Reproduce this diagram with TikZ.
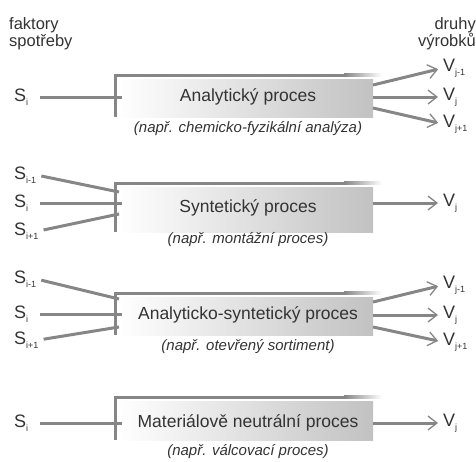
\documentclass[tikz,border=0pt]{standalone}
\usepackage{fontspec}
\setmainfont{Liberation Sans}
\usetikzlibrary{arrows.meta}
\newcommand{\lo}[1]{\raisebox{-4pt}{\fontsize{9}{9}\selectfont #1}}
\tikzset{
  flow/.style={draw=gray!95, line width=3pt},
  outflow/.style={flow, -{Straight Barb[length=9pt,width=14pt,line width=1.3pt]}, shorten >=5pt},
  lbl/.style={font=\fontsize{18}{20}\selectfont, text=black!80, inner sep=0pt, anchor=west},
  proctext/.style={font=\fontsize{17.5}{20}\selectfont, text=black!80, inner sep=0pt},
  note/.style={font=\fontsize{15}{18}\selectfont\itshape, text=black!80, inner sep=0pt},
  head/.style={font=\fontsize{16.5}{17}\selectfont, text=black!80, inner sep=0pt}
}
\begin{document}
\begin{tikzpicture}[x=1pt,y=-1pt]
\useasboundingbox (0,0) rectangle (476,461);
\node[head,anchor=north west,align=left] (fs) at (9,17) {faktory\\spotřeby};
\node[head,anchor=north east,align=right] (dv) at (476,17) {druhy\\výrobků};
% process boxes: gradient fill, bracket on the left and top
\foreach \yt/\yb in {75/117,183/232,293/335,397/440} {
  \shade[left color=white, right color=gray!48] (118,\yt+4) rectangle (373,\yb);
  \fill[gray!95] (113.5,\yt-1.5) rectangle (345,\yt+1.5);
  \shade[left color=gray!95, right color=white] (344,\yt-1.5) rectangle (382,\yt+1.5);
  \draw[gray!95, line width=3pt] (115,\yt) -- (115,\yb);
}
\node[proctext] (ana) at (248,97) {Analytický proces};
\node[note] (anan) at (248,129) {(např. chemicko-fyzikální analýza)};
\node[proctext] (syn) at (248,208) {Syntetický proces};
\node[note] (synn) at (248,240) {(např. montážní proces)};
\node[proctext] (ans) at (248,315) {Analyticko-syntetický proces};
\node[note] (ansn) at (248,347) {(např. otevřený sortiment)};
\node[proctext] (mat) at (248,423) {Materiálově neutrální proces};
\node[note] (matn) at (248,452) {(např. válcovací proces)};
% inputs
\node[lbl] (s1) at (14,97) {S\lo{i}};
\node[lbl] (s2a) at (14,175) {S\lo{i-1}};
\node[lbl] (s2b) at (14,203) {S\lo{i}};
\node[lbl] (s2c) at (14,231) {S\lo{i+1}};
\node[lbl] (s3a) at (14,279) {S\lo{i-1}};
\node[lbl] (s3b) at (14,314) {S\lo{i}};
\node[lbl] (s3c) at (14,340) {S\lo{i+1}};
\node[lbl] (s4) at (14,423) {S\lo{i}};
\coordinate (ana-in) at (122,97);
\coordinate (syn-in1) at (119,192);
\coordinate (syn-in2) at (122,203);
\coordinate (syn-in3) at (119,214);
\coordinate (ans-in1) at (119,299);
\coordinate (ans-in2) at (122,314);
\coordinate (ans-in3) at (119,327);
\coordinate (mat-in) at (122,423);
\draw[flow,shorten <=12pt] (s1.east) -- (ana-in);
\draw[flow,shorten <=5pt] (s2a.east) -- (syn-in1);
\draw[flow,shorten <=12pt] (s2b.east) -- (syn-in2);
\draw[flow,shorten <=5pt] (s2c.east) -- (syn-in3);
\draw[flow,shorten <=5pt] (s3a.east) -- (ans-in1);
\draw[flow,shorten <=12pt] (s3b.east) -- (ans-in2);
\draw[flow,shorten <=5pt] (s3c.east) -- (ans-in3);
\draw[flow,shorten <=12pt] (s4.east) -- (mat-in);
% outputs
\node[lbl] (v1a) at (443,68) {V\lo{j-1}};
\node[lbl] (v1b) at (443,97) {V\lo{j}};
\node[lbl] (v1c) at (443,124) {V\lo{j+1}};
\node[lbl] (v2) at (443,203) {V\lo{j}};
\node[lbl] (v3a) at (443,285) {V\lo{j-1}};
\node[lbl] (v3b) at (443,315) {V\lo{j}};
\node[lbl] (v3c) at (443,342) {V\lo{j+1}};
\node[lbl] (v4) at (443,423) {V\lo{j}};
\coordinate (ana-out1) at (373,85);
\coordinate (ana-out2) at (373,97);
\coordinate (ana-out3) at (373,108);
\coordinate (syn-out) at (373,203);
\coordinate (ans-out1) at (373,302);
\coordinate (ans-out2) at (373,315);
\coordinate (ans-out3) at (373,327);
\coordinate (mat-out) at (373,423);
\draw[outflow] (ana-out1) -- (v1a.west);
\draw[outflow] (ana-out2) -- (v1b.west);
\draw[outflow] (ana-out3) -- (v1c.west);
\draw[outflow] (syn-out) -- (v2.west);
\draw[outflow] (ans-out1) -- (v3a.west);
\draw[outflow] (ans-out2) -- (v3b.west);
\draw[outflow] (ans-out3) -- (v3c.west);
\draw[outflow] (mat-out) -- (v4.west);
\end{tikzpicture}
\end{document}
